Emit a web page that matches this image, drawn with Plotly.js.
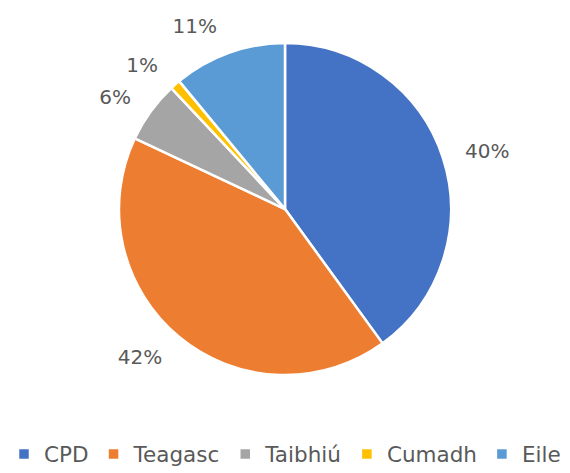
<!DOCTYPE html>
<html>
<head>
<meta charset="utf-8">
<script src="https://cdn.plot.ly/plotly-3.0.1.min.js"></script>
<style>html,body{margin:0;padding:0;background:#fff;}#chart{width:570px;height:473px;}</style>
</head>
<body>
<div id="chart"></div>
<script>
const categories = ["CPD", "Teagasc", "Taibhiú", "Cumadh", "Eile"];
const values = [40, 42, 6, 1, 11];
const colors = ["#4472C4", "#ED7D31", "#A5A5A5", "#FFC000", "#5B9BD5"];

const labelFont = {family: "'DejaVu Sans', sans-serif", size: 20, color: "#595959"};

// Visible pie
const pieTrace = {
  type: "pie",
  labels: categories,
  values: values,
  sort: false,
  direction: "clockwise",
  rotation: 0,
  marker: {colors: colors, line: {color: "#ffffff", width: 2.5}},
  textinfo: "none",
  hoverinfo: "label+percent",
  domain: {x: [0, 1], y: [0.207, 0.909]}
};

// Transparent, slightly larger pie that only carries the outside percentage labels
const labelTrace = {
  type: "pie",
  labels: categories,
  values: values,
  sort: false,
  direction: "clockwise",
  rotation: 0,
  showlegend: false,
  marker: {colors: categories.map(() => "rgba(0,0,0,0)"), line: {width: 0}},
  textinfo: "percent",
  texttemplate: "%{percent:.0%}",
  textposition: "outside",
  outsidetextfont: labelFont,
  hoverinfo: "skip",
  domain: {x: [0, 1], y: [0.171, 0.945]}
};

const layout = {
  width: 570,
  height: 473,
  margin: {l: 0, r: 0, t: 0, b: 0, autoexpand: false},
  paper_bgcolor: "#ffffff",
  showlegend: true,
  legend: {
    orientation: "h",
    x: 0.5, xanchor: "center",
    y: 0.04, yanchor: "middle",
    font: {family: "'DejaVu Sans', sans-serif", size: 21.5, color: "#595959"},
    traceorder: "normal"
  }
};

Plotly.newPlot("chart", [pieTrace, labelTrace], layout, {displayModeBar: false});
</script>
</body>
</html>
